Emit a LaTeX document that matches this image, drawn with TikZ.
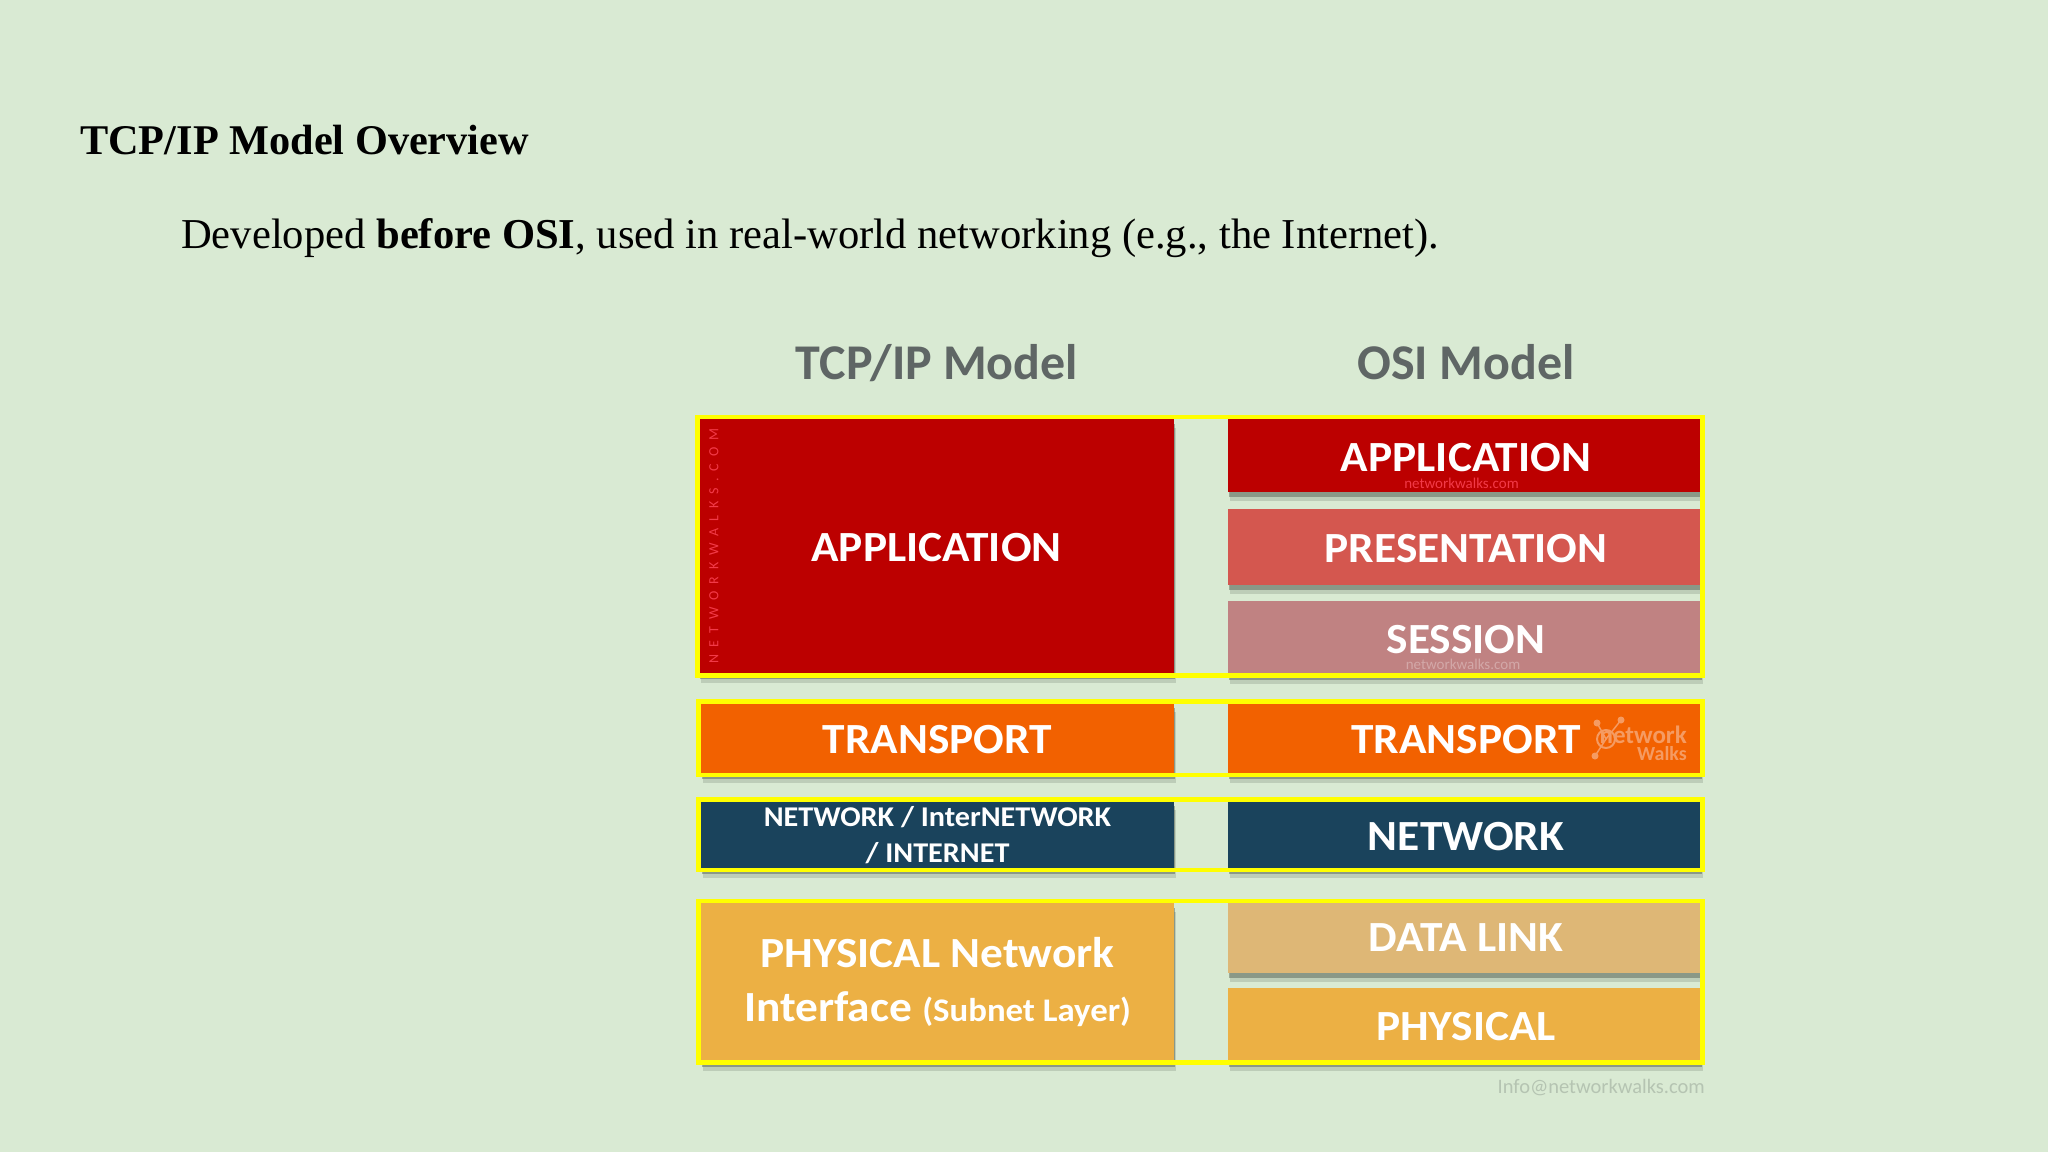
\documentclass[tikz,border=0pt]{standalone}
\usepackage{fontspec}
\usepackage{tikz}
\usetikzlibrary{shadows}
\setmainfont{Liberation Serif}
\newfontfamily\carlito{Carlito}
\newfontfamily\carlitowide[FakeStretch=1.055]{Carlito}
\newfontfamily\carlitospaced[LetterSpace=50]{Carlito}
\definecolor{bgpage}{HTML}{D9EAD3}
\definecolor{headgray}{HTML}{5F6665}
\definecolor{appred}{HTML}{BC0000}
\definecolor{presred}{HTML}{D4574F}
\definecolor{sessrose}{HTML}{C08282}
\definecolor{transorange}{HTML}{F26100}
\definecolor{netblue}{HTML}{1A435C}
\definecolor{linktan}{HTML}{DEB776}
\definecolor{physamber}{HTML}{ECB044}
\definecolor{framelemon}{HTML}{FFFF00}
\definecolor{logopeach}{HTML}{F59B62}
\definecolor{mailgray}{HTML}{B5C4B2}
\definecolor{shadowgray}{HTML}{3F4A3F}
\definecolor{markred}{HTML}{F23A48}
\tikzset{
	layerbox/.style 2 args={inner sep=0pt,outer sep=0pt,minimum width=#1,minimum height=#2,text=white,align=center,
		font=\carlitowide\bfseries\fontsize{43}{48}\selectfont,
		drop shadow={shadow xshift=2pt,shadow yshift=-9pt,fill=shadowgray,opacity=.18},
		drop shadow={shadow xshift=1pt,shadow yshift=-5pt,fill=shadowgray,opacity=.4}},
	caps/.style={text height=31pt,text depth=0pt},
	frameline/.style={framelemon,line width=4.5pt},
	heading/.style={anchor=base,text=headgray,font=\carlito\bfseries\fontsize{50}{56}\selectfont},
	smallmark/.style={anchor=base,font=\carlito\fontsize{15}{18}\selectfont}
}
\begin{document}
\begin{tikzpicture}[x=1pt,y=-1pt]
			\fill[bgpage] (0,0) rectangle (2048,1152);
			
			\node[anchor=base west,inner sep=0pt,font=\bfseries\fontsize{42.3}{48}\selectfont] (title) at (80,154) {TCP/IP Model Overview};
			\node[anchor=base west,inner sep=0pt,font=\fontsize{42.6}{48}\selectfont] (intro) at (181,248) {Developed \textbf{before OSI}, used in real-world networking (e.g., the Internet).};
			
			\node[heading] (tcphead) at (937,379) {TCP/IP Model};
			\node[heading] (osihead) at (1466,379) {OSI Model};
			
			\node[layerbox={475pt}{255pt},fill=appred,caps] (tcpapp) at (936.5,546) {APPLICATION};
			\node[layerbox={473pt}{73pt},fill=appred,caps] (osiapp) at (1464.5,455.5) {\hspace*{3pt}APPLICATION};
			\node[layerbox={473pt}{76pt},fill=presred,caps] (osipres) at (1464.5,546.5) {\hspace*{3pt}PRESENTATION};
			\node[layerbox={473pt}{74pt},fill=sessrose,caps] (osisess) at (1464.5,637.5) {\hspace*{3pt}SESSION};
			
			\node[layerbox={473pt}{71pt},fill=transorange,caps,text height=29pt] (tcptrans) at (937.5,738.5) {TRANSPORT};
			\node[layerbox={473pt}{71pt},fill=transorange,caps,text height=29pt] (ositrans) at (1464.5,738.5) {\hspace*{3pt}TRANSPORT};
			
			\node[layerbox={473pt}{68pt},fill=netblue,font=\carlitowide\bfseries\fontsize{28.6}{36}\selectfont] (tcpnet) at (937.5,835) {NETWORK / InterNETWORK\\/ INTERNET};
			\node[layerbox={473pt}{68pt},fill=netblue,caps] (osinet) at (1464.5,835) {\hspace*{3pt}NETWORK};
			
			\node[layerbox={473pt}{159pt},fill=physamber] (tcpphys) at (937.5,982) {PHYSICAL Network\\[6pt]Interface {\fontsize{33}{40}\selectfont(Subnet Layer)}};
			\node[layerbox={473pt}{71pt},fill=linktan,caps,text height=27pt] (osilink) at (1464.5,937.5) {\hspace*{3pt}DATA LINK};
			\node[layerbox={473pt}{74pt},fill=physamber,caps] (osiphys) at (1464.5,1024.5) {\hspace*{3pt}PHYSICAL};
			
			\draw[frameline] ([shift={(-1.5,-1.5)}]tcpapp.north west) rectangle ([shift={(1.5,1)}]osisess.south east);
			\draw[frameline] ([shift={(-2.5,-1.5)}]tcptrans.north west) rectangle ([shift={(1.5,1)}]ositrans.south east);
			\draw[frameline] ([shift={(-2.5,-1.5)}]tcpnet.north west) rectangle ([shift={(1.5,1)}]osinet.south east);
			\draw[frameline] ([shift={(-2.5,-1.5)}]tcpphys.north west) rectangle ([shift={(1.5,1)}]osiphys.south east);
			
			\node[rotate=90,text=markred,font=\carlitospaced\fontsize{14}{16}\selectfont] (sidemark) at (714,546) {NETWORKWALKS.COM};
			\node[smallmark,text=markred] (appmark) at (1461.5,488) {networkwalks.com};
			\node[smallmark,text=sessrose!70!white] (sessmark) at (1463,669) {networkwalks.com};
			
			\coordinate (dotA) at (1597,723);
			\coordinate (dotB) at (1621,720);
			\coordinate (dotC) at (1595,756);
			\coordinate (hub) at (1606,739);
			\draw[logopeach,line width=1.5pt] (dotA) -- (hub) -- (dotB);
			\draw[logopeach,line width=1.5pt] (dotC) -- (hub);
			\fill[logopeach] (dotA) circle (3.5);
			\fill[logopeach] (dotB) circle (3.5);
			\fill[logopeach] (dotC) circle (3.5);
			\draw[logopeach,line width=2pt] (hub) circle (9);
			\node[anchor=base east,inner sep=0pt,text=logopeach,font=\carlito\bfseries\fontsize{25}{28}\selectfont] (logonet) at (1687,743) {network};
			\node[anchor=base east,inner sep=0pt,text=logopeach,font=\carlito\bfseries\fontsize{20}{24}\selectfont] (logowalk) at (1687,760) {Walks};
			
			\node[anchor=base east,inner sep=0pt,text=mailgray,font=\carlito\fontsize{20.5}{24}\selectfont] (mailmark) at (1705,1093) {Info@networkwalks.com};
			
		\end{tikzpicture}
\end{document}
